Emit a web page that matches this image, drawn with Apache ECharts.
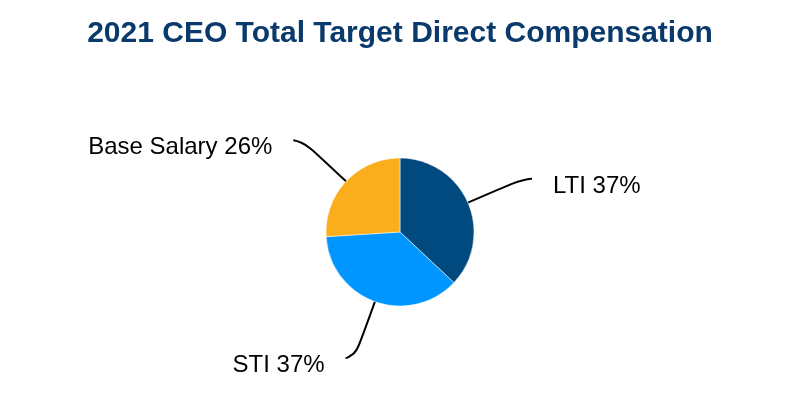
<!DOCTYPE html>
<html><head><meta charset="utf-8">
<script src="https://cdn.jsdelivr.net/npm/echarts@6/dist/echarts.min.js"></script>
<style>html,body{margin:0;padding:0;background:#fff}#c{width:800px;height:400px}</style>
</head><body><div id="c"></div>
<script>
const title = '2021 CEO Total Target Direct Compensation';
const categories = ['LTI', 'STI', 'Base Salary'];
const values = [37, 37, 26];
const colors = ['#004A80', '#0096FF', '#FBAE1C'];

const chart = echarts.init(document.getElementById('c'));
chart.setOption({
  animation: false,
  title: {
    text: title, left: 'center', top: 14,
    textStyle: { fontFamily: 'Liberation Sans, Arial', fontWeight: 'bold', fontSize: 30, color: '#0A3A6C' }
  },
  series: [{
    type: 'pie',
    center: [400, 232],
    radius: 74,
    startAngle: 90,
    clockwise: true,
    data: categories.map((c, i) => ({ name: c, value: values[i], itemStyle: { color: colors[i] } })),
    itemStyle: { borderColor: '#fff', borderWidth: 0.5 },
    label: {
      show: true,
      formatter: p => '\n' + p.name + ' ' + p.value + '%',
      fontFamily: 'Liberation Sans, Arial',
      fontSize: 24,
      lineHeight: 15,
      color: '#000',
      distanceToLabelLine: 21
    },
    labelLine: {
      show: true, length: 60, length2: 9, smooth: 0.8,
      lineStyle: { color: '#000', width: 2 }
    },
    emphasis: { disabled: true }
  }]
});
</script></body></html>
